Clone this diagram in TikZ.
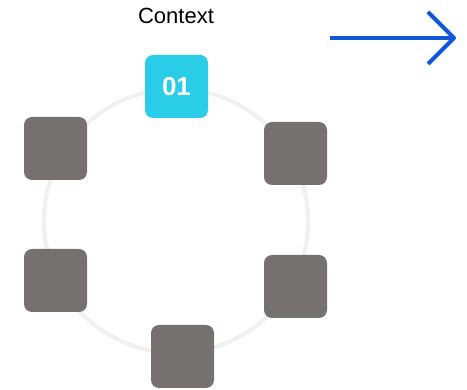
\documentclass[tikz,border=0pt]{standalone}
\usepackage{fontspec}
\setmainfont{Liberation Sans}
\definecolor{boxgray}{HTML}{76716F}
\definecolor{cyanbox}{HTML}{29CDE8}
\definecolor{ringgray}{HTML}{F0F0F0}
\definecolor{arrowblue}{HTML}{0F57D8}
\begin{document}
\begin{tikzpicture}[x=1pt,y=-1pt,
  card/.style={draw=none,fill=boxgray,rounded corners=8pt,minimum width=63pt,minimum height=63pt,inner sep=0pt},
  firstcard/.style={card,fill=cyanbox,text=white,font=\fontsize{26}{26}\selectfont\bfseries},
  ring/.style={draw=ringgray,line width=4pt},
  bluearrow/.style={draw=arrowblue,line width=4pt}]
\useasboundingbox (0,0) rectangle (467,390);
\node[circle,ring,minimum size=264pt,inner sep=0pt] (ringc) at (176,221) {};
\node[font=\fontsize{22}{22}\selectfont] (title) at (176,15.5) {Context};
\node[firstcard] (c1) at (176.5,86.5) {01};
\node[card] (c2) at (295.5,153.5) {};
\node[card] (c3) at (295.5,286.5) {};
\node[card] (c4) at (182.5,356.5) {};
\node[card] (c5) at (55.5,280.5) {};
\node[card] (c6) at (55.5,148.5) {};
\coordinate (as) at (330,38);
\coordinate (ae) at (454,38);
\coordinate (au) at (428,12);
\coordinate (ad) at (428,64);
\draw[bluearrow] (as) -- (ae);
\draw[bluearrow,line join=round] (au) -- (ae) -- (ad);
\end{tikzpicture}
\end{document}
